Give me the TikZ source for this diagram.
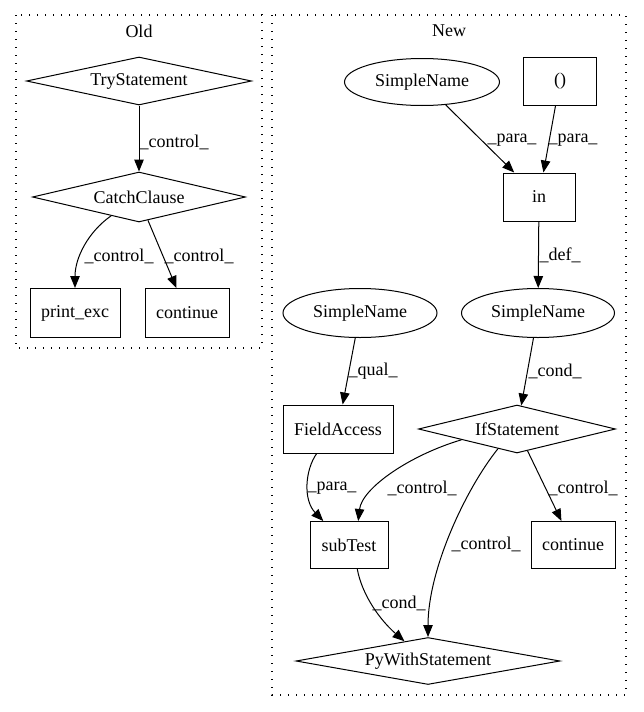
\documentclass[tikz,border=0pt]{standalone}
\usepackage{fontspec}
\setmainfont{Liberation Serif}
\usetikzlibrary{shapes.geometric,arrows.meta}
\begin{document}
\begin{tikzpicture}[x=1pt,y=-1pt,
  every node/.style={font=\fontsize{18}{21}\selectfont},
  line width=1pt,
  box/.style={draw, rectangle, inner sep=0pt},
  ell/.style={draw, ellipse, inner sep=0pt},
  dia/.style={draw, diamond, inner sep=0pt},
  arr/.style={-{Triangle[length=12pt,width=9.5pt]}},
  lbl/.style={inner sep=0pt, anchor=center},
  clus/.style={draw, line width=1.2pt, dash pattern=on 1.3pt off 6.7pt}]
\useasboundingbox (0,0) rectangle (643,712);

% clusters
\draw[clus] (16,15) rectangle (262,348);
\draw[clus] (272,15) rectangle (626,695);
\node (oldlbl) at (139,31) {Old};
\node (newlbl) at (449,31) {New};

% Old
\node[dia, minimum width=225pt, minimum height=48pt, shape aspect=4.69] (ts) at (139,81) {TryStatement};
\node[dia, minimum width=213pt, minimum height=50pt, shape aspect=4.26] (cc) at (139,197) {CatchClause};
\node[box, minimum width=90pt, minimum height=49pt] (pe) at (75,313) {print\_exc};
\node[box, minimum width=84pt, minimum height=49pt] (co) at (187,313) {continue};

% New
\node[ell, minimum width=155pt, minimum height=47pt] (sn1) at (422,82) {SimpleName};
\node[box, minimum width=73pt, minimum height=48pt] (par) at (560,81) {()};
\node[box, minimum width=72pt, minimum height=48pt] (in) at (539,197) {in};
\node[ell, minimum width=153pt, minimum height=49pt] (sn2) at (538,313) {SimpleName};
\node[ell, minimum width=154pt, minimum height=49pt] (sn3) at (360,313) {SimpleName};
\node[box, minimum width=110pt, minimum height=48pt] (fa) at (338,429) {FieldAccess};
\node[dia, minimum width=197pt, minimum height=48pt, shape aspect=4.1] (if) at (517,429) {IfStatement};
\node[box, minimum width=78pt, minimum height=47pt] (st) at (349,545) {subTest};
\node[box, minimum width=84pt, minimum height=47pt] (co2) at (573,545) {continue};
\node[dia, minimum width=264pt, minimum height=47pt, shape aspect=5.6] (pw) at (428,661) {PyWithStatement};

% Old edges
\draw[arr] (ts) -- (cc) node[lbl] at (174,142) {\_control\_};
\draw[arr] (cc.214) .. controls (88,232) and (75,258) .. (pe.north) node[lbl] at (119,256) {\_control\_};
\draw[arr] (cc.-69) -- (co) node[lbl] at (199,256) {\_control\_};

% New edges
\draw[arr] (sn1.-44) -- (in) node[lbl] at (512,140) {\_para\_};
\draw[arr] (par) -- (in) node[lbl] at (573,140) {\_para\_};
\draw[arr] (in) -- (sn2) node[lbl] at (560,255) {\_def\_};
\draw[arr] (sn3) -- (fa) node[lbl] at (373,371) {\_qual\_};
\draw[arr] (sn2) -- (if) node[lbl] at (555,371) {\_cond\_};
\draw[arr] (fa.229) .. controls (305,470) and (303,500) .. (st.137) node[lbl] at (332,488) {\_para\_};
\draw[arr] (if.191) .. controls (410,455) and (362,488) .. (st.69) node[lbl] at (422,488) {\_control\_};
\draw[arr] (if) -- (co2) node[lbl] at (583,488) {\_control\_};
\draw[arr] (if.226) .. controls (465,490) and (428,570) .. (pw.north) node[lbl] at (486,544) {\_control\_};
\draw[arr] (st.-71) .. controls (362,595) and (380,620) .. (pw.140) node[lbl] at (399,603) {\_cond\_};
\end{tikzpicture}
\end{document}
